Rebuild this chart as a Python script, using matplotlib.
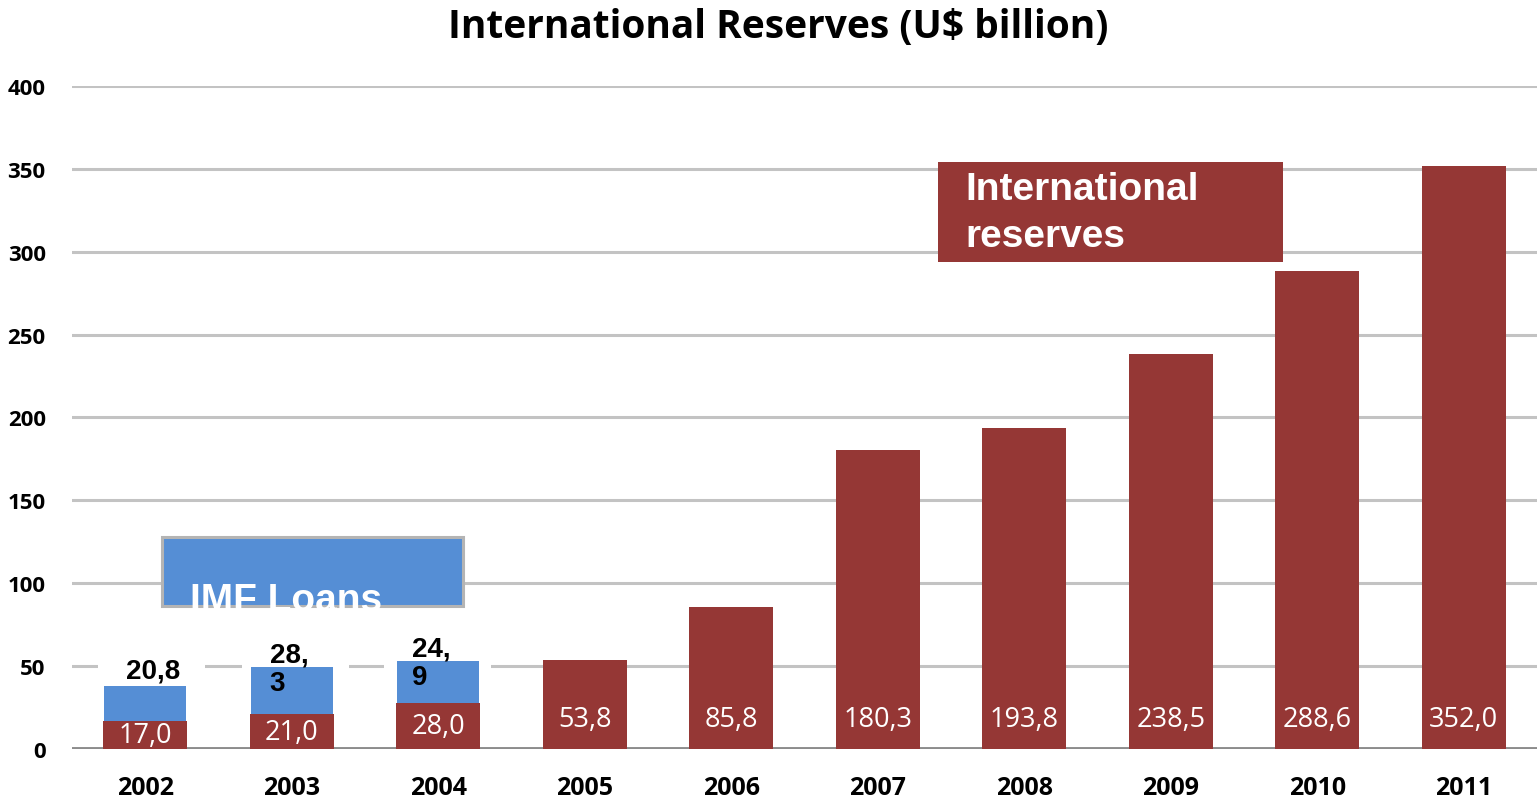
import numpy as np
import matplotlib.pyplot as plt
from matplotlib.patches import Rectangle

years = ["2002", "2003", "2004", "2005", "2006", "2007", "2008", "2009", "2010", "2011"]
reserves = [17.0, 21.0, 28.0, 53.8, 85.8, 180.3, 193.8, 238.5, 288.6, 352.0]
imf_loans = [20.8, 28.3, 24.9]
imf_labels = ["20,8", "28,\n3", "24,\n9"]

RED = "#953735"
BLUE = "#558ED5"
GRID = "#c3c3c3"

def fmt(v):
    return f"{v:.1f}".replace(".", ",")

fig = plt.figure(figsize=(15.4, 8.03), dpi=100)
ax = fig.add_axes([0.0468, 0.066, 0.9512, 0.8257])

x = np.arange(len(years))
w = 0.575

ax.set_xlim(-0.5, len(years) - 0.5)
ax.set_ylim(0, 400)
ax.set_yticks(range(0, 401, 50))
ax.grid(axis="y", color=GRID, lw=2.2, zorder=0)
ax.set_axisbelow(True)
for s in ax.spines.values():
    s.set_visible(False)
ax.axhline(0, color="#8c8c8c", lw=2.8, zorder=1)

ax.bar(x, reserves, width=w, color=RED, edgecolor="none", zorder=3)
ax.bar(x[:3], imf_loans, width=w * 0.97, bottom=reserves[:3], color=BLUE,
       edgecolor="none", zorder=3)

# white value labels inside the red bars, near the base
for xi, v in zip(x, reserves):
    ax.text(xi, min(v / 2, 18), fmt(v), ha="center", va="center", color="white",
            fontsize=19.5, family="Open Sans", zorder=5)

# IMF loan labels, with white patches breaking the 50 gridline behind them
offsets = [-0.13, -0.15, -0.18]
for i, (lab, v) in enumerate(zip(imf_labels, imf_loans)):
    top = reserves[i] + v
    xl = x[i] + offsets[i]
    ax.add_patch(Rectangle((xl - 0.19, 47), 0.73, 6, facecolor="white",
                           edgecolor="none", zorder=2))
    if "\n" in lab:
        ax.text(xl, top - 1, lab, ha="left", va="center", fontsize=20,
                fontweight="bold", family="Liberation Sans", linespacing=1.1,
                zorder=6)
    else:
        ax.text(xl, top + 1.5, lab, ha="left", va="bottom", fontsize=20,
                fontweight="bold", family="Liberation Sans", zorder=6)

# legend-style boxes
box = Rectangle((5.411, 293.8), 2.355, 60.3, facecolor=RED, edgecolor="none",
                zorder=4)
ax.add_patch(box)
ax.text(5.6, 323.5, "International\nreserves", ha="left", va="center",
        color="white", fontsize=28, fontweight="bold", family="Liberation Sans",
        linespacing=1.38, zorder=6)

imf_box = Rectangle((0.114, 86.3), 2.055, 41.6, facecolor=BLUE,
                    edgecolor="#b4b4b4", lw=2.2, zorder=4)
ax.add_patch(imf_box)
t = ax.text(0.305, 83.9, "IMF Loans", ha="left", va="baseline", color="white",
            fontsize=28, fontweight="bold", family="Liberation Sans", zorder=5)
t.set_clip_path(imf_box)

ax.set_xticks(x)
ax.set_xticklabels(years)
ax.tick_params(axis="x", length=0, pad=19)
ax.tick_params(axis="y", length=0, pad=19)
for lab in ax.get_xticklabels():
    lab.set_fontsize(18)
    lab.set_fontweight("bold")
    lab.set_family("Open Sans")
for lab in ax.get_yticklabels():
    lab.set_fontsize(16)
    lab.set_fontweight("bold")
    lab.set_family("Open Sans")

fig.text(0.505, 0.966, "International Reserves (U$ billion)", ha="center",
         va="center", fontsize=28, fontweight="bold", family="Open Sans")

fig.savefig("out.png", dpi=100)
